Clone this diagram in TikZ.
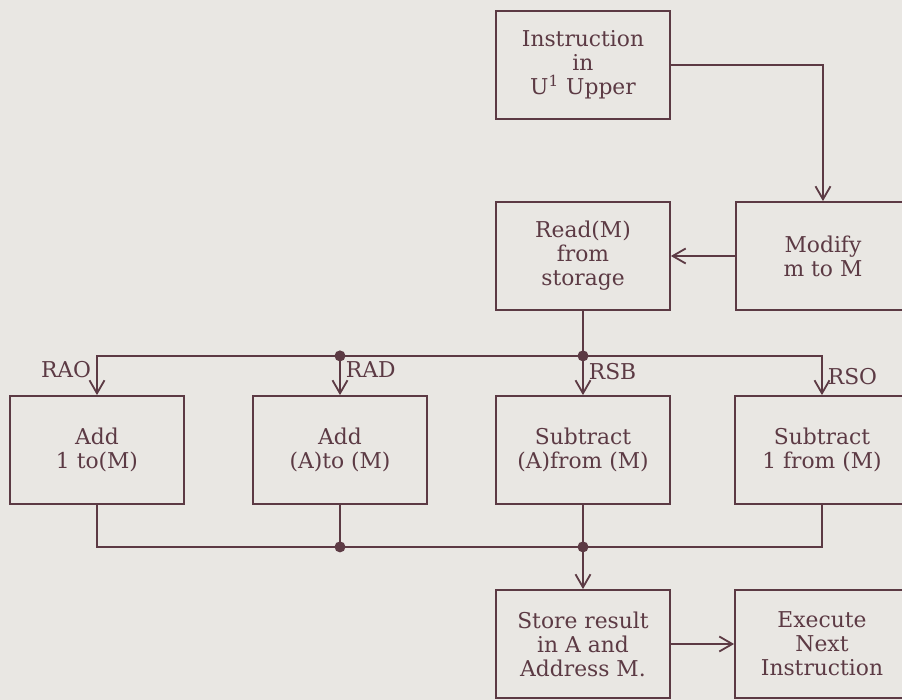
\documentclass[tikz,border=0pt]{standalone}
\usepackage{fontspec}
\setmainfont{DejaVu Serif}
\usetikzlibrary{arrows.meta}
\definecolor{ink}{RGB}{92,58,68}
\definecolor{paper}{RGB}{233,231,227}
\tikzstyle{block} = [rectangle, minimum width=87pt, minimum height=54pt, text centered, align=center, draw=ink, line width=0.9pt, text=ink, font=\fontsize{10.9}{12}\selectfont]
\tikzstyle{line} = [draw=ink, line width=0.9pt]
\tikzstyle{arrow} = [line, -{Straight Barb[length=6.5pt,width=7.5pt]}]
\tikzstyle{dot} = [circle, fill=ink, inner sep=0pt, minimum size=5.5pt]
\tikzstyle{tag} = [text=ink, inner sep=2.5pt, font=\fontsize{10.9}{12}\selectfont]

\begin{document}
\begin{tikzpicture}[node distance=97pt]
\fill [paper] (-291.5pt,32.5pt) rectangle (159.5pt,-317.5pt);
\useasboundingbox (-291.5pt,32.5pt) rectangle (159.5pt,-317.5pt);

\node (instr) [block] {Instruction\\in\\U\textsuperscript{1} Upper};
\node (read) [block, below of=instr, node distance=95.5pt] {Read(M)\\from\\storage};
\node (modify) [block, right of=read, node distance=120pt] {Modify\\m to M};
\node (sub1) [block, below of=read] {Subtract\\(A)from (M)};
\node (add2) [block, left of=sub1, node distance=121.5pt] {Add\\(A)to (M)};
\node (add1) [block, left of=add2, node distance=121.5pt] {Add\\1 to(M)};
\node (sub2) [block, right of=sub1, node distance=119.5pt] {Subtract\\1 from (M)};
\node (store) [block, below of=sub1] {Store result\\in A and\\Address M.};
\node (exec) [block, right of=store, node distance=119.5pt] {Execute\\Next\\Instruction};

\draw [arrow] (instr.east) -| (modify);
\draw [arrow] (modify) -- (read);

\draw [line] (read.south) -- ++(0,-22.5pt) coordinate (j3);
\draw [arrow] (j3) -- node [tag, right, pos=0.4] {RSB} (sub1);
\draw [arrow] (j3) -| node [tag, left, pos=0.68] {RAO} (add1);
\draw [arrow] (j3) -| node [tag, right, pos=0.76] {RSO} (sub2);
\draw [arrow] (j3 -| add2) -- node [tag, right, pos=0.35] {RAD} (add2);

\draw [line] (sub1.south) -- ++(0,-21pt) coordinate (j4);
\draw [line] (add1) |- (j4) -| (sub2);
\draw [line] (add2) -- (add2 |- j4);
\draw [arrow] (j4) -- (store);
\draw [arrow] (store) -- (exec);

\node (d1) [dot] at (j3) {};
\node (d2) [dot] at (j3 -| add2) {};
\node (d3) [dot] at (j4) {};
\node (d4) [dot] at (add2 |- j4) {};

\end{tikzpicture}
\end{document}
